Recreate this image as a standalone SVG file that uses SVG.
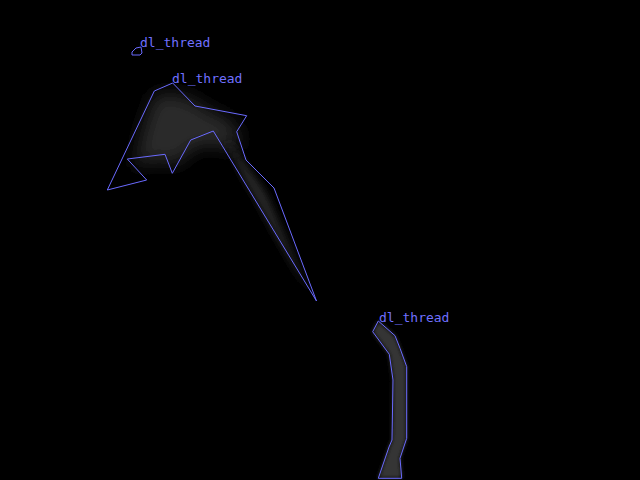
<svg xmlns="http://www.w3.org/2000/svg" width="640" height="480" viewBox="0 0 640 480">
<style>
.outline{fill:none;stroke:#6a6aff;stroke-width:1}
.lbl{font-family:"DejaVu Sans Mono","Liberation Mono",monospace;font-size:13px;fill:#7070ff}
</style>
<defs>
<filter id="blur" x="-30%" y="-30%" width="160%" height="160%"><feGaussianBlur stdDeviation="9"/></filter>
<filter id="blur2" x="-20%" y="-20%" width="140%" height="140%"><feGaussianBlur stdDeviation="4"/></filter>
<filter id="blur3" x="-20%" y="-20%" width="140%" height="140%"><feGaussianBlur stdDeviation="2"/></filter>
</defs>
<rect width="640" height="480" fill="#000"/>
<g id="smoke1">
<path d="M155,95 Q185,90 210,112 Q235,118 238,135 Q240,150 230,150 Q210,140 190,150 Q175,172 165,160 Q145,160 135,170 Q140,130 155,95 Z" fill="#2a2a2a" filter="url(#blur)"/>
<path d="M226,138 Q250,170 266,195 Q292,255 312,296 Q282,248 256,198 Q238,170 226,138 Z" fill="#2e2e2e" filter="url(#blur2)"/>
<polygon class="outline" points="172.7,83 195,106 246.7,115.7 236.7,131.7 246,160 274,188 316.5,301 213.3,131 190.7,140 172.3,173.3 165,154.3 127.3,159 146.7,180 107.3,190 154.3,91"/>
<text class="lbl" x="172" y="83">dl_thread</text>
</g>
<g id="smoke2">
<polygon class="outline" points="141,47 142,53 140,55 132,55 132,52 136,48"/>
<text class="lbl" x="140" y="47">dl_thread</text>
</g>
<g id="smoke3">
<polygon points="378.3,321 372.7,331.7 389.3,354.3 393,380 392,440 389,447 378.3,478.3 401.7,478.3 400,458.3 406.7,438.3 406.7,366.7 400,348.3 395,335.7" fill="#363636" filter="url(#blur3)"/>
<polygon class="outline" points="378.3,321 372.7,331.7 389.3,354.3 393,380 392,440 389,447 378.3,478.3 401.7,478.3 400,458.3 406.7,438.3 406.7,366.7 400,348.3 395,335.7"/>
<text class="lbl" x="379" y="322">dl_thread</text>
</g>
</svg>
